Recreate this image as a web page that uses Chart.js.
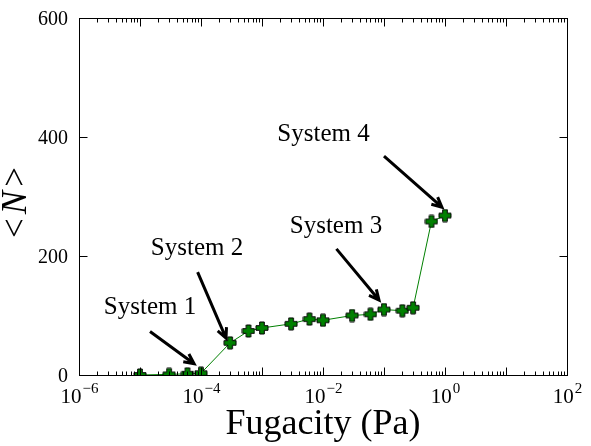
<!DOCTYPE html>
<html>
<head>
<meta charset="utf-8">
<script src="https://cdn.jsdelivr.net/npm/chart.js@4.4.1/dist/chart.umd.min.js"></script>
<style>
    html, body { margin: 0; padding: 0; background: #fff; }
    #wrap { width: 591px; height: 446px; }
</style>
</head>
<body>
<div id="wrap"><canvas id="isotherm" width="591" height="446"></canvas></div>
<script>
(function () {
    'use strict';

    // isotherm: average loading vs fugacity
    const fugacity = [1e-5, 3e-5, 6e-5, 1e-4, 3e-4, 6e-4, 1e-3, 3e-3, 6e-3, 1e-2,
        3e-2, 6e-2, 1e-1, 2e-1, 3e-1, 6e-1, 1];
    const loading = [0, 1, 2, 3, 54, 74, 79, 86, 94, 92, 100, 102, 110, 108, 113, 258, 268];

    const xExponents = [-6, -4, -2, 0, 2];
    const yTicks = [0, 200, 400, 600];

    // annotation text, text anchor, arrow tail and arrow head (data units)
    const noteText = ['System 1', 'System 2', 'System 3', 'System 4'];
    const noteAt = [[1.46e-5, 113], [8.6e-5, 213], [0.0163, 250], [0.0102, 405]];
    const arrowFrom = [[1.46e-5, 73], [8.8e-5, 173], [0.0166, 212], [0.1, 368]];
    const arrowTo = [[7.7e-5, 19], [2.57e-4, 62], [0.0828, 126], [0.89, 282]];

    const SERIF = '"Liberation Serif", "DejaVu Serif", serif';

    function plusMarker() {
        const c = document.createElement('canvas');
        c.width = 14;
        c.height = 14;
        const g = c.getContext('2d');
        const m = 7, a = 2.3, l = 6;
        g.beginPath();
        g.moveTo(m - a, m - l);
        g.lineTo(m + a, m - l);
        g.lineTo(m + a, m - a);
        g.lineTo(m + l, m - a);
        g.lineTo(m + l, m + a);
        g.lineTo(m + a, m + a);
        g.lineTo(m + a, m + l);
        g.lineTo(m - a, m + l);
        g.lineTo(m - a, m + a);
        g.lineTo(m - l, m + a);
        g.lineTo(m - l, m - a);
        g.lineTo(m - a, m - a);
        g.closePath();
        g.fillStyle = '#008000';
        g.fill();
        g.lineWidth = 1;
        g.strokeStyle = '#000';
        g.stroke();
        return c;
    }

    function drawArrow(ctx, x0, y0, x1, y1) {
        const ang = Math.atan2(y1 - y0, x1 - x0);
        const head = 11, spread = 0.45;
        ctx.beginPath();
        ctx.moveTo(x0, y0);
        ctx.lineTo(x1, y1);
        ctx.moveTo(x1 - head * Math.cos(ang - spread), y1 - head * Math.sin(ang - spread));
        ctx.lineTo(x1, y1);
        ctx.lineTo(x1 - head * Math.cos(ang + spread), y1 - head * Math.sin(ang + spread));
        ctx.stroke();
    }

    const framePlugin = {
        id: 'frame',
        afterDatasetsDraw: function (chart) {
            const ctx = chart.ctx;
            const area = chart.chartArea;
            const xs = chart.scales.x;
            const ys = chart.scales.y;
            const L = Math.round(area.left) + 0.5;
            const R = Math.round(area.right) + 0.5;
            const T = Math.round(area.top) + 0.5;
            const B = Math.round(area.bottom) + 0.5;

            ctx.save();
            ctx.strokeStyle = '#000';
            ctx.lineWidth = 1;
            ctx.strokeRect(L, T, R - L, B - T);

            ctx.beginPath();
            for (let e = -6; e <= 2; e++) {
                const px = Math.round(xs.getPixelForValue(Math.pow(10, e))) + 0.5;
                ctx.moveTo(px, B); ctx.lineTo(px, B - 8);
                ctx.moveTo(px, T); ctx.lineTo(px, T + 8);
                if (e === 2) { continue; }
                for (let k = 2; k <= 9; k++) {
                    const mx = Math.round(xs.getPixelForValue(k * Math.pow(10, e))) + 0.5;
                    ctx.moveTo(mx, B); ctx.lineTo(mx, B - 4);
                    ctx.moveTo(mx, T); ctx.lineTo(mx, T + 4);
                }
            }
            yTicks.forEach(function (v) {
                const py = Math.round(ys.getPixelForValue(v)) + 0.5;
                ctx.moveTo(L, py); ctx.lineTo(L + 8, py);
                ctx.moveTo(R, py); ctx.lineTo(R - 8, py);
            });
            ctx.stroke();

            // tick labels
            ctx.fillStyle = '#000';
            ctx.textBaseline = 'alphabetic';
            ctx.textAlign = 'right';
            ctx.font = '20px ' + SERIF;
            yTicks.forEach(function (v) {
                ctx.fillText(String(v), area.left - 11, ys.getPixelForValue(v) + 7);
            });

            xExponents.forEach(function (e) {
                const px = xs.getPixelForValue(Math.pow(10, e));
                const exp = e < 0 ? '\u2212' + Math.abs(e) : String(e);
                ctx.font = '21px ' + SERIF;
                const wb = ctx.measureText('10').width;
                ctx.font = '15px ' + SERIF;
                const we = ctx.measureText(exp).width;
                const x0 = px - (wb + we) / 2;
                ctx.textAlign = 'left';
                ctx.font = '21px ' + SERIF;
                ctx.fillText('10', x0, area.bottom + 28);
                ctx.font = '15px ' + SERIF;
                ctx.fillText(exp, x0 + wb + 1, area.bottom + 18);
            });

            // axis titles
            ctx.textAlign = 'center';
            ctx.font = '36px ' + SERIF;
            ctx.fillText('Fugacity (Pa)', (area.left + area.right) / 2, 434);

            ctx.save();
            ctx.translate(26, (area.top + area.bottom) / 2 + 6);
            ctx.rotate(-Math.PI / 2);
            ctx.textAlign = 'left';
            ctx.font = '35px ' + SERIF;
            const wl = ctx.measureText('<').width;
            ctx.font = 'italic 35px ' + SERIF;
            const wn = ctx.measureText('N').width;
            const gap = 4;
            const total = wl * 2 + wn + gap * 2;
            let cx = -total / 2;
            ctx.font = '35px ' + SERIF;
            ctx.fillText('<', cx, 0);
            cx += wl + gap;
            ctx.font = 'italic 35px ' + SERIF;
            ctx.fillText('N', cx, 0);
            cx += wn + gap;
            ctx.font = '35px ' + SERIF;
            ctx.fillText('>', cx, 0);
            ctx.restore();

            // annotations
            ctx.textAlign = 'center';
            ctx.textBaseline = 'middle';
            ctx.font = '25px ' + SERIF;
            ctx.lineWidth = 3;
            ctx.lineCap = 'butt';
            ctx.lineJoin = 'miter';
            noteText.forEach(function (t, i) {
                ctx.fillText(t, xs.getPixelForValue(noteAt[i][0]), ys.getPixelForValue(noteAt[i][1]));
                drawArrow(ctx,
                    xs.getPixelForValue(arrowFrom[i][0]), ys.getPixelForValue(arrowFrom[i][1]),
                    xs.getPixelForValue(arrowTo[i][0]), ys.getPixelForValue(arrowTo[i][1]));
            });
            ctx.restore();
        }
    };

    const points = fugacity.map(function (f, i) { return { x: f, y: loading[i] }; });

    new Chart(document.getElementById('isotherm'), {
        type: 'line',
        data: {
            datasets: [{
                data: points,
                borderColor: '#008000',
                borderWidth: 1,
                tension: 0,
                pointStyle: plusMarker(),
                pointRadius: 6,
                clip: 0
            }]
        },
        options: {
            responsive: false,
            animation: false,
            events: [],
            layout: { padding: { left: 79, right: 24, top: 18, bottom: 71 } },
            plugins: { legend: { display: false }, tooltip: { enabled: false } },
            scales: {
                x: { type: 'logarithmic', min: 1e-6, max: 1e2, display: false },
                y: { type: 'linear', min: 0, max: 600, display: false }
            }
        },
        plugins: [framePlugin]
    });
})();
</script>
</body>
</html>
